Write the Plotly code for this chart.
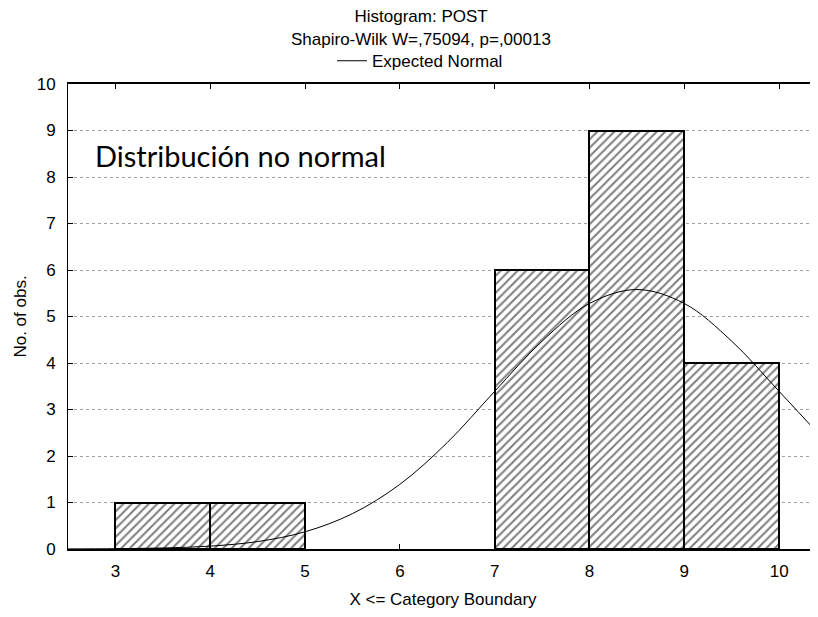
import plotly.graph_objects as go

# Histogram bins (lower edge, width 1) and observed counts
bin_lower = [3, 4, 7, 8, 9]
bin_counts = [1, 1, 6, 9, 4]

# Expected normal curve
curve_x = [2.5, 3, 3.5, 4, 4.5, 5, 5.5, 6, 6.5, 7, 7.5, 8, 8.5, 9, 9.5, 10, 10.5]
curve_y = [0.002, 0.007, 0.022, 0.062, 0.16, 0.37, 0.76, 1.39, 2.29, 3.39,
           4.47, 5.28, 5.58, 5.28, 4.47, 3.39, 2.29]

x_ticks = [3, 4, 5, 6, 7, 8, 9, 10]
y_ticks = [0, 1, 2, 3, 4, 5, 6, 7, 8, 9, 10]

fig = go.Figure()

# Hatched histogram bars
fig.add_trace(go.Bar(
    x=bin_lower,
    y=bin_counts,
    width=1,
    offset=0,
    marker=dict(
        color="white",
        line=dict(color="black", width=2),
        pattern=dict(shape="/", fgcolor="black", bgcolor="white", size=6, solidity=0.35),
    ),
    showlegend=False,
))

# Expected normal line
fig.add_trace(go.Scatter(
    x=curve_x,
    y=curve_y,
    mode="lines",
    line=dict(color="black", width=1, shape="spline"),
    name="Expected Normal",
))

# page body has an 8px margin, so keep the figure inside the window
fig.update_layout(
    width=810,
    height=601,
    margin=dict(l=60, r=0, t=76, b=57),
    paper_bgcolor="white",
    plot_bgcolor="white",
    font=dict(family="Liberation Sans, Arial, sans-serif", size=17, color="black"),
    bargap=0,
    title=dict(
        text="Histogram: POST",
        x=0.51, xref="container", xanchor="center",
        y=0.9867, yref="container", yanchor="middle",
        font=dict(size=17),
    ),
    legend=dict(
        orientation="h",
        x=0.352, xanchor="left",
        y=1.049, yanchor="middle",
        font=dict(size=17),
        bgcolor="rgba(0,0,0,0)",
    ),
    annotations=[
        dict(
            text="Shapiro-Wilk W=,75094, p=,00013",
            x=0.4707, xref="paper", xanchor="center",
            y=1.0962, yref="paper", yanchor="middle",
            showarrow=False, font=dict(size=17),
        ),
        dict(
            text="Distribución no normal",
            x=2.76, xref="x", xanchor="left",
            y=8.47, yref="y", yanchor="middle",
            showarrow=False,
            font=dict(family="Lato, Noto Sans, sans-serif", size=29),
        ),
    ],
)

fig.update_xaxes(
    range=[2.5, 10.41],
    tickvals=x_ticks,
    ticks="inside",
    ticklen=5,
    tickcolor="black",
    ticklabelstandoff=6,
    showline=True,
    linecolor="black",
    linewidth=1.5,
    mirror="ticks",
    showgrid=False,
    zeroline=False,
    title=dict(text="X <= Category Boundary", font=dict(size=17), standoff=16),
)

fig.update_yaxes(
    range=[0, 10],
    tickvals=y_ticks,
    ticks="inside",
    ticklen=5,
    tickcolor="black",
    ticklabelstandoff=8,
    showline=True,
    linecolor="black",
    linewidth=1,
    showgrid=True,
    gridcolor="#a0a0a0",
    griddash="dot",
    gridwidth=1,
    zeroline=False,
    title=dict(text="No. of obs.", font=dict(size=17), standoff=5),
)

fig.write_html("out.html")
